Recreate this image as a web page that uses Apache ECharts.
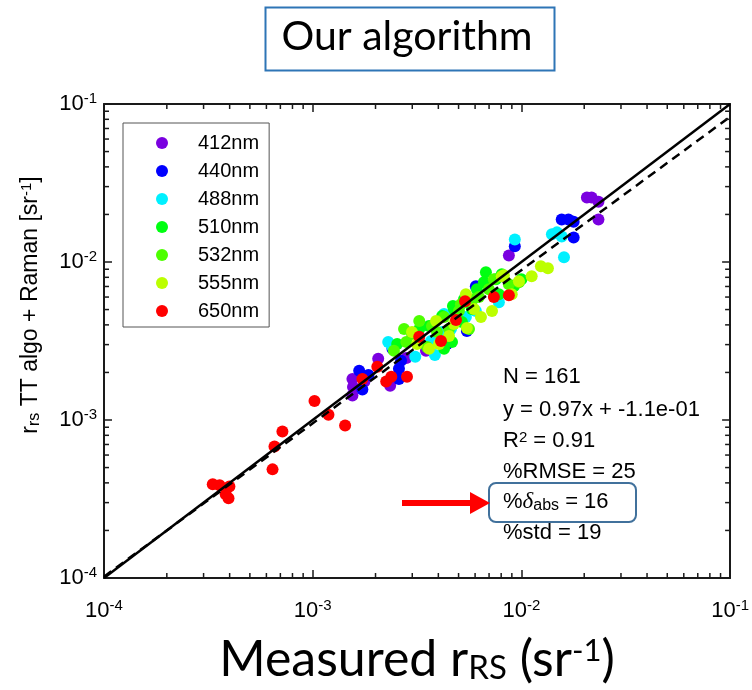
<!DOCTYPE html>
<html><head><meta charset="utf-8">
<script src="https://cdn.jsdelivr.net/npm/echarts@6/dist/echarts.min.js"></script>
<style>html,body{margin:0;padding:0;background:#fff}#c{width:752px;height:690px}</style>
</head><body><div id="c"></div>
<script>
// ---------------- data ----------------
const wavelengths = ['412nm', '440nm', '488nm', '510nm', '532nm', '555nm', '650nm'];
const colors = ['#7a00e0', '#0000ff', '#00f0ff', '#00ff11', '#4dff00', '#bcff00', '#ff0000'];

const x412 = [2.17e-2, 2.34e-2, 2.06e-2, 2.34e-2, 8.71e-3, 2.06e-3, 1.55e-3, 1.56e-3, 1.55e-3, 2.35e-3, 2.81e-3, 3.49e-3, 1.77e-3];
const y412 = [2.56e-2, 2.41e-2, 2.56e-2, 1.86e-2, 1.10e-2, 2.44e-3, 1.82e-3, 1.62e-3, 1.43e-3, 1.65e-3, 2.47e-3, 2.74e-3, 1.75e-3];

const x440 = [1.56e-2, 1.68e-2, 1.78e-2, 1.78e-2, 9.30e-3, 1.67e-3, 1.73e-3, 2.59e-3, 2.59e-3, 2.41e-3, 1.85e-3, 4.40e-3, 6.05e-3, 2.65e-3, 5.02e-3, 4.40e-3, 5.48e-3];
const y440 = [1.86e-2, 1.86e-2, 1.80e-2, 1.43e-2, 1.26e-2, 2.05e-3, 1.56e-3, 2.11e-3, 1.82e-3, 2.82e-3, 1.93e-3, 3.66e-3, 7.03e-3, 2.37e-3, 4.49e-3, 3.03e-3, 3.66e-3];

const x488 = [9.30e-3, 1.40e-2, 1.56e-2, 1.48e-2, 1.60e-2, 2.41e-3, 3.10e-3, 3.85e-3, 4.26e-3, 4.17e-3, 6.05e-3, 7.80e-3, 2.30e-3, 5.42e-3, 3.69e-3, 4.60e-3, 5.61e-3];
const y488 = [1.39e-2, 1.50e-2, 1.45e-2, 1.54e-2, 1.07e-2, 2.90e-3, 2.51e-3, 2.58e-3, 4.68e-3, 3.61e-3, 4.89e-3, 5.57e-3, 3.12e-3, 4.49e-3, 3.16e-3, 3.77e-3, 5.57e-3];

const x510 = [2.54e-3, 3.61e-3, 4.26e-3, 4.65e-3, 4.70e-3, 6.76e-3, 6.61e-3, 4.75e-3, 4.17e-3, 9.20e-3, 1.00e-2, 7.80e-3, 5.19e-3, 5.79e-3, 7.55e-3, 8.05e-3, 3.24e-3, 5.31e-3, 6.12e-3];
const y510 = [3.03e-3, 3.94e-3, 2.82e-3, 3.12e-3, 5.26e-3, 8.61e-3, 7.45e-3, 5.04e-3, 4.55e-3, 7.03e-3, 7.78e-3, 6.26e-3, 4.17e-3, 5.04e-3, 7.78e-3, 8.37e-3, 3.77e-3, 5.82e-3, 6.73e-3];

const x532 = [2.99e-3, 2.81e-3, 3.53e-3, 3.94e-3, 4.50e-3, 5.61e-3, 6.98e-3, 8.71e-3, 9.73e-3, 5.02e-3, 3.73e-3, 2.45e-3, 5.86e-3, 2.74e-3, 3.24e-3, 4.26e-3, 5.13e-3, 6.26e-3, 7.38e-3];
const y532 = [3.50e-3, 3.12e-3, 2.90e-3, 3.61e-3, 3.77e-3, 3.77e-3, 6.73e-3, 7.24e-3, 7.45e-3, 4.89e-3, 3.94e-3, 2.74e-3, 5.82e-3, 3.77e-3, 4.23e-3, 4.49e-3, 5.41e-3, 6.00e-3, 7.78e-3];

const x555 = [1.24e-2, 1.34e-2, 1.12e-2, 8.24e-3, 2.99e-3, 3.61e-3, 4.50e-3, 5.48e-3, 5.93e-3, 7.23e-3, 8.05e-3, 9.73e-3, 8.99e-3, 3.90e-3, 5.42e-3, 3.16e-3, 4.03e-3, 4.75e-3, 6.40e-3];
const y555 = [9.40e-3, 9.12e-3, 8.13e-3, 8.24e-3, 3.61e-3, 2.82e-3, 3.40e-3, 3.82e-3, 5.04e-3, 4.89e-3, 8.13e-3, 7.55e-3, 6.26e-3, 4.23e-3, 6.26e-3, 3.03e-3, 3.03e-3, 4.05e-3, 4.49e-3];

const x650 = [3.32e-4, 3.58e-4, 3.99e-4, 3.83e-4, 3.95e-4, 6.42e-4, 6.56e-4, 7.16e-4, 1.02e-3, 1.19e-3, 1.43e-3, 1.73e-3, 2.04e-3, 2.25e-3, 2.38e-3, 2.83e-3, 3.24e-3, 4.12e-3, 4.86e-3, 5.37e-3, 7.38e-3, 8.71e-3];
const y650 = [3.92e-4, 3.86e-4, 3.80e-4, 3.39e-4, 3.20e-4, 4.87e-4, 6.79e-4, 8.45e-4, 1.32e-3, 1.08e-3, 9.23e-4, 1.82e-3, 2.17e-3, 1.75e-3, 1.88e-3, 1.88e-3, 3.36e-3, 3.16e-3, 4.30e-3, 5.65e-3, 6.00e-3, 6.17e-3];

// 1:1 line and regression line end points
const lineX = [1e-4, 1e-1];
const oneToOneY = [1e-4, 1e-1];
const fitY = [1.02e-4, 8.3e-2];

// axis ticks
const tickValues = [1e-4, 1e-3, 1e-2, 1e-1];
const tickExponents = ['-4', '-3', '-2', '-1'];
const minorTicks = [2e-4,3e-4,4e-4,5e-4,6e-4,7e-4,8e-4,9e-4,
                    2e-3,3e-3,4e-3,5e-3,6e-3,7e-3,8e-3,9e-3,
                    2e-2,3e-2,4e-2,5e-2,6e-2,7e-2,8e-2,9e-2];

// statistics text
const statN = '161';
const statFit = '0.97x + -1.1e-01';
const statR2 = '0.91';
const statRMSE = '25';
const statDelta = '16';
const statStd = '19';

// ---------------- chart ----------------
const xs = [x412, x440, x488, x510, x532, x555, x650];
const ys = [y412, y440, y488, y510, y532, y555, y650];
const pair = (a, b) => a.map((v, i) => [v, b[i]]);

const chart = echarts.init(document.getElementById('c'), null, {renderer: 'canvas'});
const FONT = 'Liberation Sans, Arial, sans-serif';
const supRich = {
  b: {fontSize: 22, fontFamily: FONT, color: '#000', lineHeight: 26},
  s: {fontSize: 15, fontFamily: FONT, color: '#000', verticalAlign: 'top', padding: [0, 0, 10, 0]}
};
function tickFmt(v) {
  const i = tickValues.findIndex(t => Math.abs(Math.log10(t) - Math.log10(v)) < 1e-6);
  return i < 0 ? '' : '{b|10}{s|' + tickExponents[i] + '}';
}

const GRID = {left: 104, top: 104, width: 628, height: 476};
const axisCommon = {
  type: 'log', logBase: 10, min: 1e-4, max: 1e-1,
  axisLine: {show: true, onZero: false, lineStyle: {color: '#1a1a1a', width: 2}},
  axisTick: {show: true, inside: true, length: 8, lineStyle: {color: '#1a1a1a', width: 1.5}},
  splitLine: {show: false}, minorTick: {show: false}
};

const series = wavelengths.map((w, k) => ({
  name: w, type: 'scatter', symbol: 'circle', symbolSize: 12,
  itemStyle: {color: colors[k], opacity: 1},
  data: pair(xs[k], ys[k]), z: 2 + k * 0.01, emphasis: {disabled: true}
}));
series.push({
  name: '1:1', type: 'line', data: pair(lineX, oneToOneY), symbol: 'none',
  lineStyle: {color: '#000', width: 2.5}, z: 5, silent: true
});
series.push({
  name: 'fit', type: 'line', data: pair(lineX, fitY), symbol: 'none',
  lineStyle: {color: '#000', width: 2.5, type: [9, 6]}, z: 5, silent: true
});
series.push({
  name: 'minor', type: 'custom', silent: true, z: 6, clip: false,
  data: minorTicks.map(v => [v, v]),
  renderItem: function (params, api) {
    const cs = params.coordSys;
    const v = api.value(0);
    const px = api.coord([v, 1e-4])[0];
    const py = api.coord([1e-4, v])[1];
    const L = 5, st = {stroke: '#1a1a1a', lineWidth: 1.5};
    return {type: 'group', children: [
      {type: 'line', shape: {x1: px, y1: cs.y + cs.height, x2: px, y2: cs.y + cs.height - L}, style: st},
      {type: 'line', shape: {x1: px, y1: cs.y, x2: px, y2: cs.y + L}, style: st},
      {type: 'line', shape: {x1: cs.x, y1: py, x2: cs.x + L, y2: py}, style: st},
      {type: 'line', shape: {x1: cs.x + cs.width, y1: py, x2: cs.x + cs.width - L, y2: py}, style: st}
    ]};
  }
});

const statX = 503;
const statTexts = [
  'N = ' + statN,
  'y = ' + statFit,
  'R{sup|2} = ' + statR2,
  '%RMSE = ' + statRMSE,
  '%{d|δ}{sub|abs} = ' + statDelta,
  '%std = ' + statStd
];
const statY = [377, 410, 441, 472, 502, 533];
const statRich = {
  sup: {fontSize: 15, fontFamily: FONT, verticalAlign: 'top', fill: '#000'},
  sub: {fontSize: 16, fontFamily: FONT, verticalAlign: 'bottom', fill: '#000'},
  d: {fontSize: 23, fontFamily: 'Liberation Serif, serif', fontStyle: 'italic', fill: '#000'}
};

const graphics = [
  {type: 'rect', left: 263, top: 5, shape: {width: 289, height: 63}, style: {fill: 'none', stroke: '#2e75b6', lineWidth: 2}},
  {type: 'text', x: 407, y: 37, style: {text: 'Our algorithm', font: '41px Lato, "Open Sans", sans-serif', fill: '#000', align: 'center', verticalAlign: 'middle'}},
  {type: 'rect', x: 489, y: 483, shape: {width: 147, height: 39, r: 7}, style: {fill: 'none', stroke: '#41719c', lineWidth: 2}},
  {type: 'line', shape: {x1: 402, y1: 503, x2: 474, y2: 503}, style: {stroke: '#ff0000', lineWidth: 6}},
  {type: 'polygon', shape: {points: [[470, 492], [490, 503], [470, 514]]}, style: {fill: '#ff0000'}},
  {type: 'text', x: 31, y: 305, rotation: Math.PI / 2,
   style: {text: 'r{sub|rs} TT algo + Raman [sr{sup|-1}]', font: '23px ' + FONT, fill: '#000',
           align: 'center', verticalAlign: 'middle',
           rich: {sub: {fontSize: 16, fontFamily: FONT, verticalAlign: 'bottom', fill: '#000'},
                  sup: {fontSize: 15, fontFamily: FONT, verticalAlign: 'top', fill: '#000'}}}}
];
statTexts.forEach((t, i) => graphics.push({
  type: 'text', x: statX, y: statY[i],
  style: {text: t, font: '22px ' + FONT, fill: '#000', verticalAlign: 'middle', rich: statRich}
}));

chart.setOption({
  animation: false,
  backgroundColor: '#fff',
  grid: GRID,
  legend: {
    data: wavelengths, orient: 'vertical', left: 123, top: 123,
    padding: [10, 10, 6, 33], itemWidth: 62, itemHeight: 12, itemGap: 8,
    icon: 'circle', borderColor: '#555', borderWidth: 1, backgroundColor: '#fff',
    textStyle: {fontSize: 20, fontFamily: FONT, color: '#000', lineHeight: 16},
    selectedMode: false
  },
  xAxis: [
    Object.assign({}, axisCommon, {
      position: 'bottom',
      axisLabel: {formatter: tickFmt, rich: supRich, margin: 20},
      name: 'Measured r{sub|RS} (sr{sup|-1})', nameLocation: 'middle', nameGap: 57,
      nameTextStyle: {fontSize: 50, fontFamily: 'Lato, "Open Sans", sans-serif', color: '#000',
        rich: {sub: {fontSize: 33, fontFamily: 'Lato, sans-serif', verticalAlign: 'bottom', padding: [14, 0, 0, 0]},
               sup: {fontSize: 31, fontFamily: 'Lato, sans-serif', verticalAlign: 'top'}}}
    }),
    Object.assign({}, axisCommon, {position: 'top', axisLabel: {show: false}})
  ],
  yAxis: [
    Object.assign({}, axisCommon, {
      position: 'left',
      axisLabel: {formatter: tickFmt, rich: supRich, margin: 7}
    }),
    Object.assign({}, axisCommon, {position: 'right', axisLabel: {show: false}})
  ],
  series: series,
  graphic: graphics
});
</script>
</body></html>
